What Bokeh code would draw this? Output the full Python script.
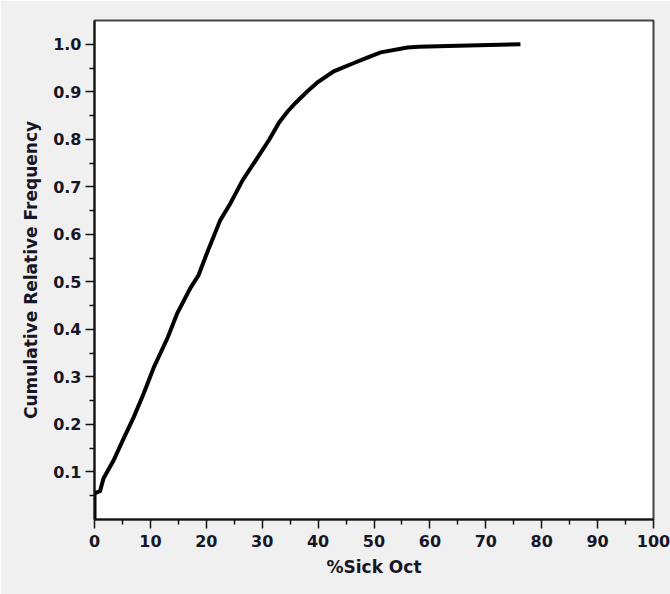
from bokeh.plotting import figure
from bokeh.models import Range1d, FixedTicker, ColumnDataSource, PrintfTickFormatter
from bokeh.embed import file_html
from bokeh.resources import INLINE

# Cumulative relative frequency curve
pct_sick_oct = [0, 0, 1.0, 1.6, 3.4, 5.2, 7.0, 8.8, 10.6, 13.1, 14.8, 17.2, 18.6,
                20.2, 22.5, 24.3, 26.5, 29.2, 31.3, 33.0, 34.5, 36.0, 38.0, 39.9,
                42.8, 46.3, 48.8, 51.2, 56.0, 58.0, 65.0, 72.5, 76.2]
cum_rel_freq = [0, 0.055, 0.06, 0.086, 0.124, 0.17, 0.215, 0.265, 0.32, 0.383,
                0.434, 0.488, 0.514, 0.563, 0.63, 0.665, 0.714, 0.762, 0.80,
                0.835, 0.858, 0.877, 0.90, 0.92, 0.943, 0.96, 0.972, 0.983,
                0.993, 0.995, 0.997, 0.999, 1.0]

x_ticks = [0, 10, 20, 30, 40, 50, 60, 70, 80, 90, 100]
x_minor = [5, 15, 25, 35, 45, 55, 65, 75, 85, 95]
y_ticks = [0.1, 0.2, 0.3, 0.4, 0.5, 0.6, 0.7, 0.8, 0.9, 1.0]
y_minor = [0.05, 0.15, 0.25, 0.35, 0.45, 0.55, 0.65, 0.75, 0.85, 0.95]

src = ColumnDataSource(dict(x=pct_sick_oct, y=cum_rel_freq))

p = figure(width=670, height=594, output_backend="svg", toolbar_location=None,
           x_range=Range1d(0, 100), y_range=Range1d(0, 1.05),
           min_border_left=94, min_border_right=17, min_border_top=20,
           min_border_bottom=75)

p.border_fill_color = "#f0f0f0"
p.background_fill_color = "white"
p.outline_line_color = "#444444"
p.outline_line_width = 2
p.grid.visible = False

p.line("x", "y", source=src, line_color="black", line_width=4,
       line_join="miter")

font = "DejaVu Sans"
for ax in (p.xaxis[0], p.yaxis[0]):
    ax.axis_line_color = "#111111"
    ax.axis_line_width = 2
    ax.major_tick_line_color = "#111111"
    ax.minor_tick_line_color = "#111111"
    ax.major_tick_line_width = 1.5
    ax.minor_tick_line_width = 1.5
    ax.major_tick_in = 0
    ax.major_tick_out = 9
    ax.minor_tick_in = 0
    ax.minor_tick_out = 5
    ax.major_label_text_font = font
    ax.major_label_text_font_style = "bold"
    ax.major_label_text_font_size = "16px"
    ax.major_label_text_color = "#161626"
    ax.axis_label_text_font = font
    ax.axis_label_text_font_style = "bold"
    ax.axis_label_text_font_size = "17px"
    ax.axis_label_text_color = "#161626"

p.xaxis[0].ticker = FixedTicker(ticks=x_ticks, minor_ticks=x_minor)
p.yaxis[0].ticker = FixedTicker(ticks=y_ticks, minor_ticks=y_minor)
p.yaxis[0].formatter = PrintfTickFormatter(format="%.1f")
p.xaxis[0].major_label_standoff = 6
p.yaxis[0].major_label_standoff = 4
p.xaxis[0].axis_label = "%Sick Oct"
p.yaxis[0].axis_label = "Cumulative Relative Frequency"
p.xaxis[0].axis_label_standoff = 7
p.yaxis[0].axis_label_standoff = 9

open("out.html", "w").write(file_html(p, INLINE))
